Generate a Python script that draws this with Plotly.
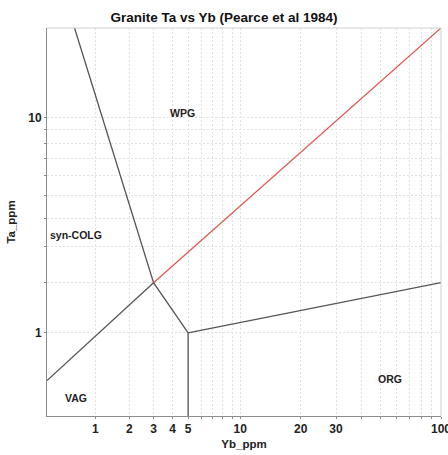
import numpy as np
import plotly.graph_objects as go

# ---- data (values in ppm) ----
steep_yb = [0.55, 3, 5]
steep_ta = [20, 2, 1]
vag_yb = [0.1, 3]
vag_ta = [0.35, 2]
wpg_yb = [3, 100]
wpg_ta = [2, 20]
org_yb = [5, 100]
org_ta = [1, 2]
vert_yb = [5, 5]
vert_ta = [1, 0]

label_names = ["WPG", "syn-COLG", "VAG", "ORG"]
label_yb = [4.6, 0.575, 0.57, 56]
label_ta = [10.4, 3.4, 0.17, 0.37]

x_grid = [1, 2, 3, 4, 5, 6, 7, 8, 9, 10, 20, 30, 40, 50, 60, 70, 80, 90, 100]
x_labels = ["1", "2", "3", "4", "5", "", "", "", "", "10", "20", "30", "", "", "", "", "", "", "100"]
y_grid = [1, 2, 3, 4, 5, 6, 7, 8, 9, 10]
y_labels = ["1", "", "", "", "", "", "", "", "", "10"]

x_min, x_max = 0.1, 100
y_min, y_max = 0, 20


def adj_log10(v):
    """Adjusted log10 (values below 10 are pulled toward 10 before logging)."""
    v = np.asarray(v, dtype=float)
    w = np.where(v < 10, v + (10 - v) / 10.0, v)
    return np.log10(w)


FONT = "Liberation Sans, Arial, sans-serif"
GREY = "#555555"
RED = "#e0574f"

fig = go.Figure()
for xs, ys, col in [
    (steep_yb, steep_ta, GREY),
    (vag_yb, vag_ta, GREY),
    (org_yb, org_ta, GREY),
    (vert_yb, vert_ta, GREY),
    (wpg_yb, wpg_ta, RED),
]:
    fig.add_trace(go.Scatter(x=adj_log10(xs), y=adj_log10(ys), mode="lines",
                             line=dict(color=col, width=1.3), showlegend=False,
                             hoverinfo="skip"))

for name, xv, yv in zip(label_names, label_yb, label_ta):
    fig.add_annotation(x=float(adj_log10(xv)), y=float(adj_log10(yv)), text="<b>%s</b>" % name,
                       showarrow=False, font=dict(family=FONT, size=10.5, color="#222222"))

axis_common = dict(
    showgrid=True, gridcolor="#e2e2e2", griddash="2px,2px", gridwidth=1,
    zeroline=False, showline=True, linecolor="#8c8c8c", linewidth=1,
    ticks="outside", ticklen=2, tickcolor="#8c8c8c",
    ticklabeloverflow="allow", automargin=False,
    tickfont=dict(family=FONT, size=12, color="#222222"),
)

fig.update_xaxes(
    range=[float(adj_log10(x_min)), float(adj_log10(x_max))],
    tickmode="array", tickvals=list(adj_log10(x_grid)), ticktext=["<b>%s</b>" % t if t else "" for t in x_labels],
    title=dict(text="<b>Yb_ppm</b>", font=dict(family=FONT, size=11.5, color="#222222"), standoff=4),
    **axis_common,
)
fig.update_yaxes(
    range=[float(adj_log10(y_min)), float(adj_log10(y_max))],
    tickmode="array", tickvals=list(adj_log10(y_grid)), ticktext=["<b>%s</b>" % t if t else "" for t in y_labels],
    title=dict(text="<b>Ta_ppm</b>", font=dict(family=FONT, size=11.5, color="#222222"), standoff=10),
    **axis_common,
)

# light top / right border
fig.add_shape(type="line", xref="paper", yref="paper", x0=0, x1=1, y0=1, y1=1,
              line=dict(color="#d0d0d0", width=1))
fig.add_shape(type="line", xref="paper", yref="paper", x0=1, x1=1, y0=0, y1=1,
              line=dict(color="#d0d0d0", width=1))

fig.update_layout(
    width=448, height=455,
    margin=dict(l=47, r=7, t=28, b=39, autoexpand=False),
    paper_bgcolor="white", plot_bgcolor="white",
    title=dict(text="<b>Granite Ta vs Yb (Pearce et al 1984)</b>", x=0.5, xref="container",
               y=1 - 17 / 455, yanchor="middle",
               font=dict(family=FONT, size=13.5, color="#111111")),
)

fig.write_html("out.html")
